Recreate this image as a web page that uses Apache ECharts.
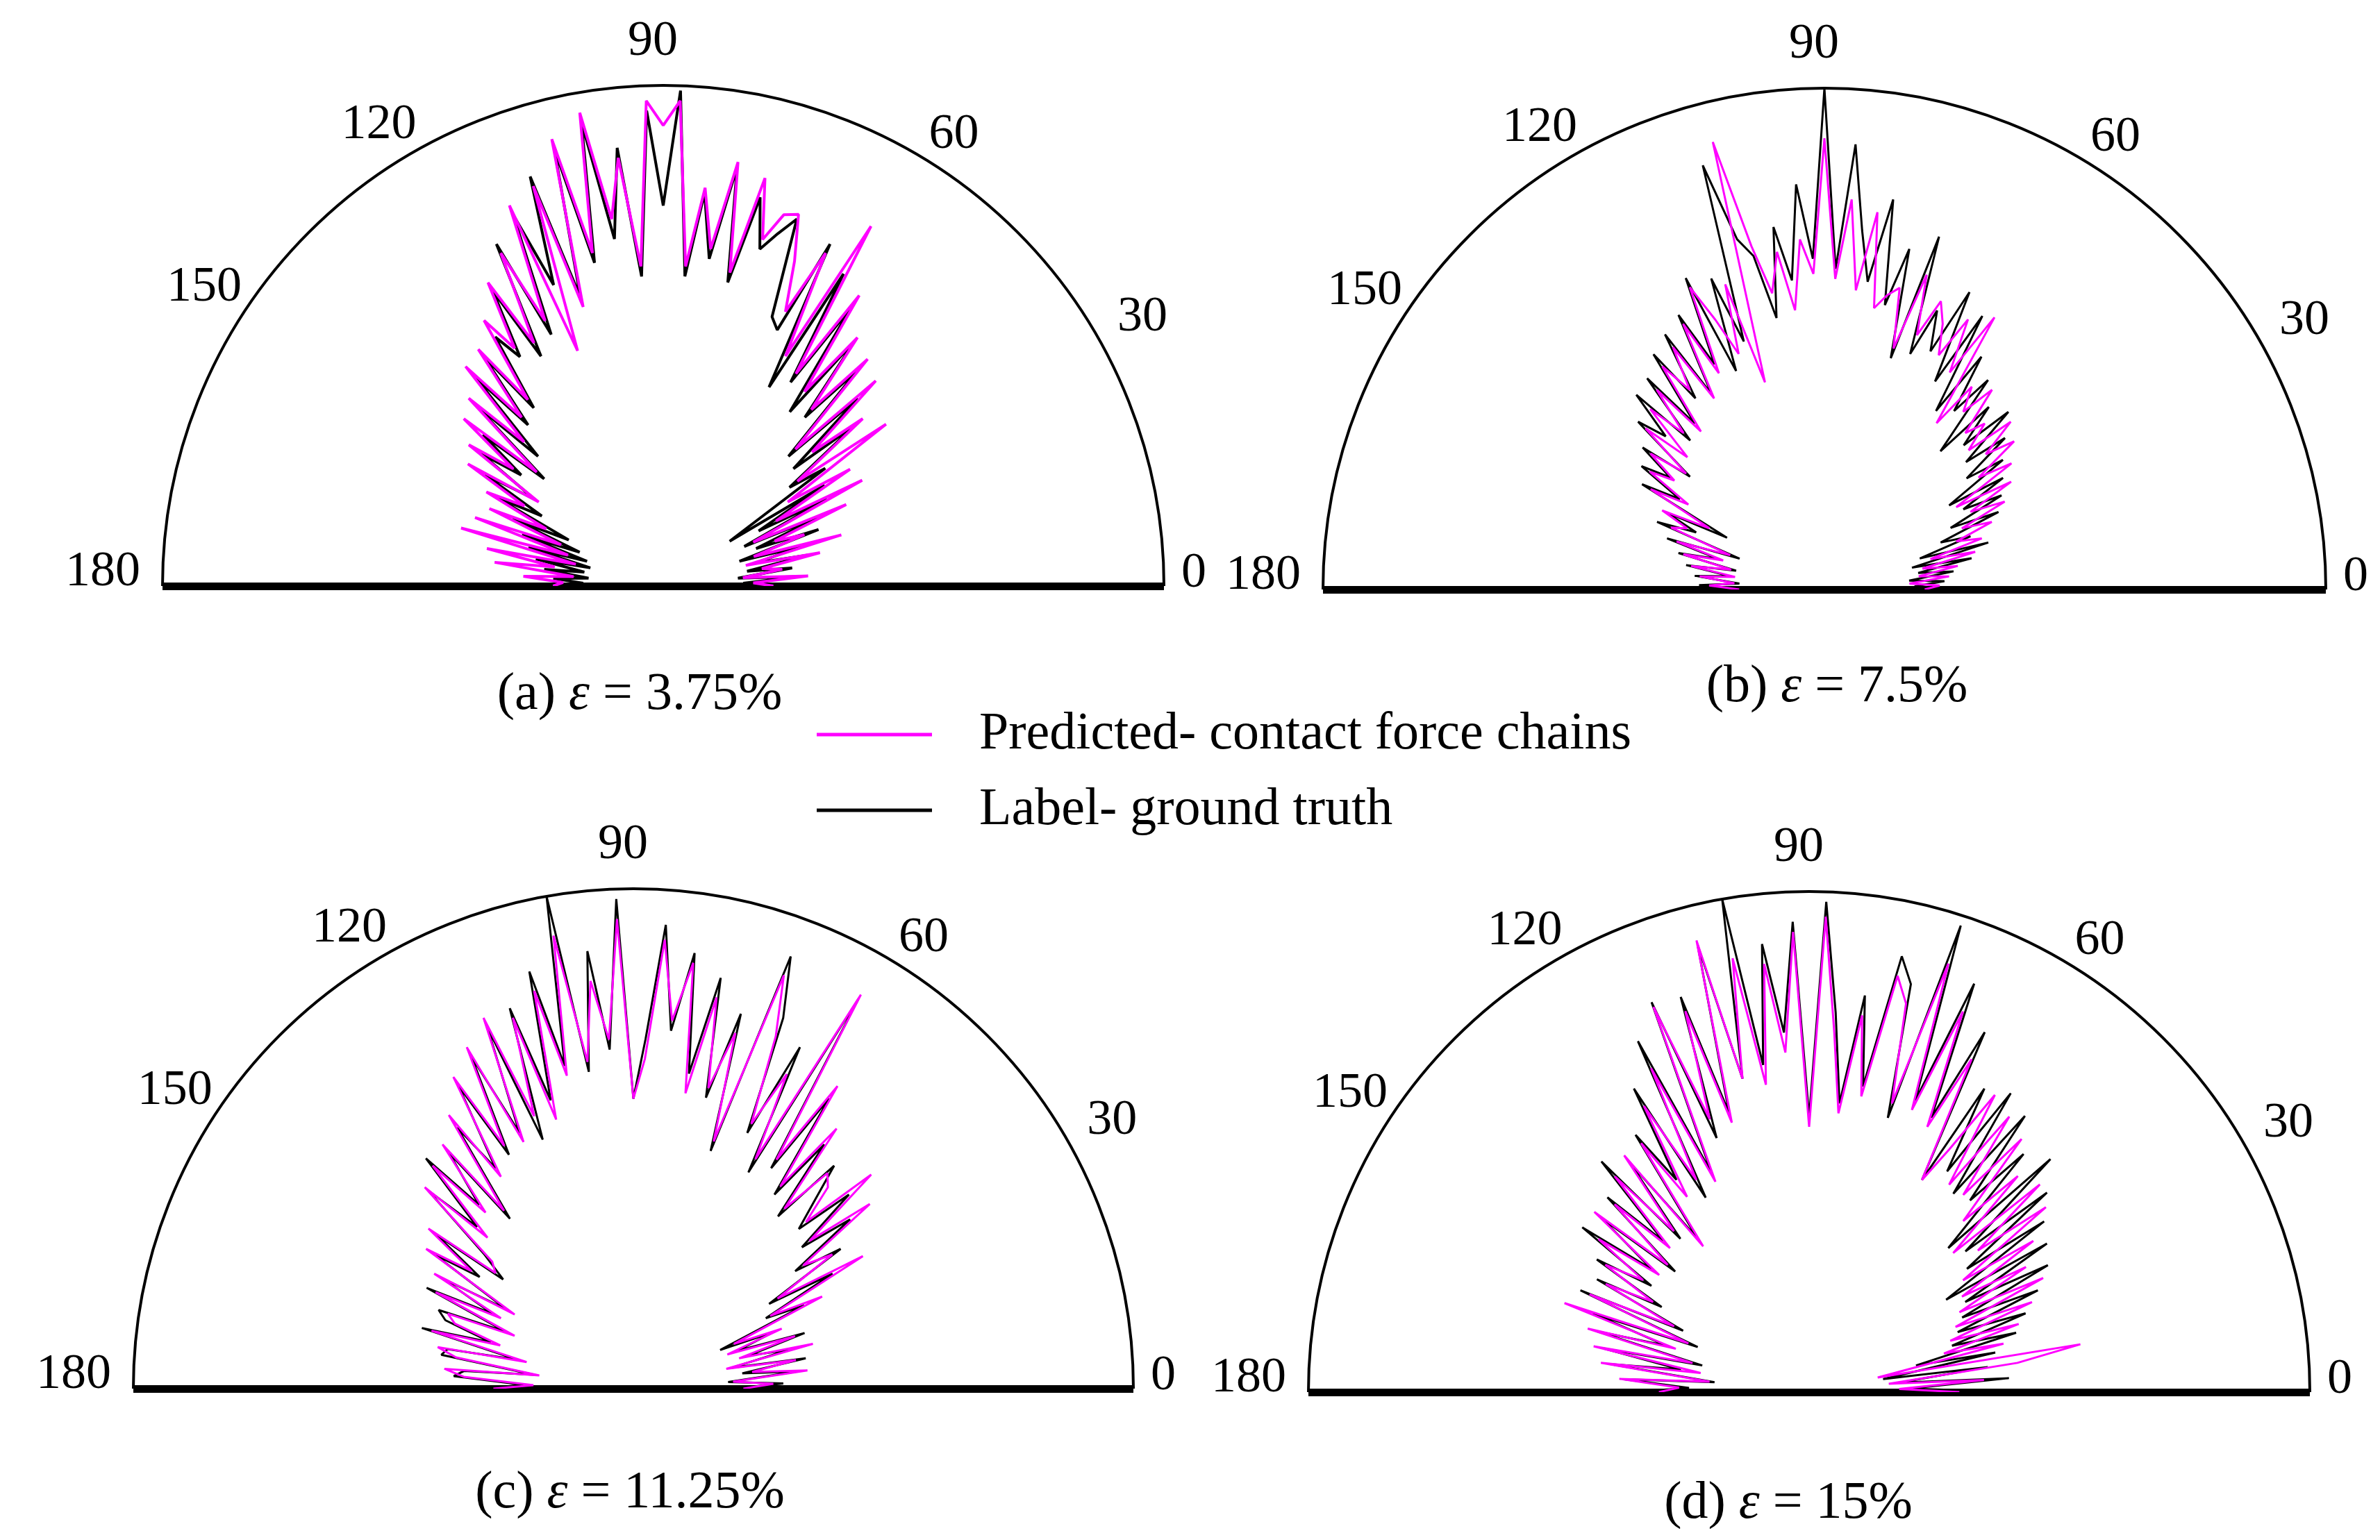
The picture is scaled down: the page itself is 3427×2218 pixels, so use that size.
<!DOCTYPE html>
<html>
<head>
<meta charset="utf-8">
<title>Contact force chain orientation</title>
<script src="https://cdn.jsdelivr.net/npm/echarts@6/dist/echarts.min.js"></script>
<style>
html, body { margin: 0; padding: 0; background: #fff; }
#main { width: 3427px; height: 2218px; }
</style>
</head>
<body>
<div id="main"></div>
<script>
// contact direction (degrees), one value every 2 degrees
var angles = [0, 2, 4, 6, 8, 10, 12, 14, 16, 18, 20, 22, 24, 26, 28, 30, 32, 34, 36, 38,
	40, 42, 44, 46, 48, 50, 52, 54, 56, 58, 60, 62, 64, 66, 68, 70, 72, 74, 76, 78,
	80, 82, 84, 86, 88, 90, 92, 94, 96, 98, 100, 102, 104, 106, 108, 110, 112, 114, 116, 118,
	120, 122, 124, 126, 128, 130, 132, 134, 136, 138, 140, 142, 144, 146, 148, 150, 152, 154, 156, 158,
	160, 162, 164, 166, 168, 170, 172, 174, 176, 178, 180];

// (a) strain 3.75%
var labelA = [20, 16, 27, 15, 26, 17, 30, 19, 29, 16, 33, 20, 35, 18, 37, 22, 38, 16, 40, 32,
	50, 35, 54, 36, 58, 44, 62, 43, 67, 48, 72, 45, 76, 56, 58, 78, 74, 70, 80, 62,
	85, 66, 79, 62, 99, 76, 95, 62, 88, 70, 94, 66, 90, 60, 86, 64, 80, 55, 76, 52,
	68, 54, 60, 44, 58, 42, 56, 36, 52, 32, 47, 36, 45, 31, 42, 28, 38, 21, 33, 18,
	30, 16, 28, 15, 26, 16, 24, 15, 22, 16, 18];
var predA = [22, 18, 29, 16, 24, 20, 32, 17, 37, 19, 30, 24, 40, 20, 45, 26, 44, 30, 55, 34,
	52, 40, 59, 38, 61, 46, 63, 48, 70, 50, 83, 52, 74, 60, 70, 79, 78, 72, 84, 64,
	86, 68, 80, 64, 97, 92, 97, 64, 86, 74, 96, 68, 92, 58, 84, 50, 82, 58, 74, 55,
	70, 56, 64, 46, 60, 44, 59, 40, 54, 34, 52, 38, 48, 30, 46, 32, 40, 26, 38, 22,
	40, 20, 42, 18, 36, 22, 34, 18, 28, 20, 22];

// (b) strain 7.5%
var labelB = [22, 18, 24, 17, 26, 19, 30, 18, 34, 20, 31, 25, 38, 28, 40, 32, 42, 30, 44, 36,
	47, 38, 51, 40, 49, 36, 53, 44, 56, 42, 63, 47, 66, 52, 60, 50, 74, 48, 70, 58,
	79, 62, 72, 89, 64, 100, 66, 81, 62, 73, 55, 68, 72, 88, 52, 66, 47, 68, 50, 62,
	45, 60, 46, 58, 42, 55, 40, 54, 44, 50, 35, 46, 38, 44, 34, 42, 22, 35, 28, 36,
	18, 33, 22, 30, 18, 28, 19, 26, 17, 25, 19];
var predB = [20, 23, 17, 25, 19, 27, 20, 31, 22, 33, 28, 36, 30, 40, 33, 43, 31, 45, 38, 48,
	42, 50, 40, 46, 42, 52, 45, 50, 40, 64, 50, 61, 52, 58, 62, 54, 66, 50, 62, 60,
	57, 76, 60, 78, 62, 90, 63, 70, 56, 68, 60, 70, 92, 43, 64, 50, 58, 66, 48, 60,
	44, 57, 48, 55, 40, 52, 42, 50, 38, 48, 36, 44, 37, 42, 32, 40, 26, 36, 30, 33,
	20, 31, 21, 29, 19, 27, 18, 25, 18, 23, 17];

// (c) strain 11.25%
var labelC = [20, 30, 19, 33, 22, 35, 20, 32, 24, 36, 22, 30, 19, 38, 30, 46, 32, 50, 40, 55,
	44, 58, 46, 52, 60, 45, 62, 48, 70, 52, 90, 49, 76, 56, 80, 92, 50, 78, 60, 84,
	64, 88, 72, 93, 70, 58, 98, 68, 88, 64, 100, 66, 86, 60, 80, 53, 78, 56, 74, 53,
	70, 52, 63, 42, 60, 48, 62, 45, 57, 40, 34, 50, 38, 48, 30, 44, 32, 46, 28, 42,
	40, 30, 44, 24, 38, 39, 20, 34, 36, 22, 30];
var predC = [22, 28, 20, 35, 24, 33, 19, 37, 22, 34, 20, 32, 22, 42, 31, 53, 34, 48, 42, 60,
	46, 64, 48, 56, 58, 47, 66, 50, 73, 54, 91, 52, 70, 58, 76, 88, 52, 74, 62, 80,
	60, 86, 74, 90, 66, 58, 94, 70, 82, 66, 92, 64, 82, 56, 78, 58, 80, 54, 76, 55,
	72, 50, 66, 44, 62, 46, 60, 42, 58, 38, 36, 52, 40, 50, 28, 46, 30, 44, 26, 40,
	38, 28, 42, 22, 40, 36, 19, 38, 34, 20, 28];

// (d) strain 15%
var labelD = [43, 20, 40, 18, 36, 15, 38, 22, 43, 30, 46, 32, 50, 34, 54, 36, 56, 33, 58, 40,
	62, 42, 67, 40, 64, 50, 70, 49, 72, 52, 70, 48, 80, 60, 88, 62, 98, 57, 84, 89,
	62, 80, 58, 76, 98, 55, 94, 72, 90, 66, 100, 64, 92, 58, 83, 54, 84, 48, 78, 44,
	70, 50, 62, 38, 58, 40, 62, 42, 56, 36, 54, 40, 56, 38, 50, 34, 48, 28, 50, 24,
	46, 30, 44, 22, 42, 26, 40, 19, 37, 24, 36];
var predD = [30, 18, 35, 16, 42, 55, 14, 40, 28, 44, 30, 48, 32, 52, 34, 50, 36, 54, 38, 60,
	44, 62, 40, 60, 46, 66, 50, 68, 50, 70, 56, 48, 74, 58, 82, 60, 90, 60, 80, 85,
	60, 76, 56, 72, 95, 53, 92, 68, 86, 62, 88, 64, 93, 56, 80, 58, 83, 46, 72, 48,
	66, 46, 60, 36, 60, 42, 58, 40, 54, 38, 56, 38, 52, 40, 48, 36, 46, 30, 48, 26,
	52, 28, 46, 24, 44, 22, 42, 20, 38, 26, 30];

var angleTicks = [0, 30, 60, 90, 120, 150, 180];
var panelTitles = ['(a) {e|ε} = 3.75%', '(b) {e|ε} = 7.5%', '(c) {e|ε} = 11.25%', '(d) {e|ε} = 15%'];
var seriesNames = ['Predicted- contact force chains', 'Label- ground truth'];

var serif = '"Liberation Serif", "Times New Roman", serif';

var panels = [
	{ center: [955, 844], radius: 721, label: labelA, pred: predA, titleAt: [921, 963], lw: 4 },
	{ center: [2627, 849], radius: 722, label: labelB, pred: predB, titleAt: [2645, 952], lw: 3 },
	{ center: [912, 2000], radius: 720, label: labelC, pred: predC, titleAt: [907, 2113], lw: 3 },
	{ center: [2605, 2005], radius: 721, label: labelD, pred: predD, titleAt: [2575, 2128], lw: 3 }
];

/*标签微调*/
var tickRich = {
	t0: { padding: [0, 0, 36, 45] },
	t30: { padding: [0, 0, 0, 47] },
	t60: { padding: [0, 0, 7, 32] },
	t90: { padding: [0, 30, 47, 0] },
	t120: { padding: [0, 5, 21, 0] },
	t150: { padding: [0, 0, 43, 0] },
	t180: { padding: [0, 52, 40, 0] }
};

function toPolar(vals, angs) {
	var out = [];
	for (var i = 0; i < vals.length; i++) {
		out.push([vals[i], angs[i]]);
	}
	return out;
}

function hiddenRadius(idx, showLine) {
	return {
		polarIndex: idx,
		type: 'value',
		min: 0,
		max: 100,
		axisLine: { show: showLine, lineStyle: { color: '#000', width: 11, cap: 'butt' } },
		axisTick: { show: false },
		axisLabel: { show: false },
		splitLine: { show: false }
	};
}

var polar = [], angleAxis = [], radiusAxis = [], series = [], title = [];
var n = panels.length;

for (var p = 0; p < n; p++) {
	var pn = panels[p];
	polar.push({ center: pn.center, radius: pn.radius });
	angleAxis.push({
		polarIndex: p,
		type: 'value',
		min: angleTicks[0],
		max: angleTicks[angleTicks.length - 1],
		interval: 30,
		startAngle: 0,
		endAngle: 180,
		clockwise: false,
		axisLine: { lineStyle: { color: '#000', width: 4 } },
		axisTick: { show: false },
		splitLine: { show: false },
		axisLabel: {
			margin: -20,
			color: '#000',
			fontSize: 72,
			fontFamily: serif,
			formatter: function(v) {
				return '{t' + v + '|' + v + '}';
			},
			rich: tickRich
		}
	});
	/*右半径 = 底部直径右半*/
	radiusAxis.push(hiddenRadius(p, true));
	series.push({
		name: seriesNames[1],
		type: 'line',
		coordinateSystem: 'polar',
		polarIndex: p,
		data: toPolar(pn.label, angles),
		symbol: 'none',
		lineStyle: { color: '#000', width: pn.lw },
		itemStyle: { color: '#000' },
		z: 3
	});
	series.push({
		name: seriesNames[0],
		type: 'line',
		coordinateSystem: 'polar',
		polarIndex: p,
		data: toPolar(pn.pred, angles),
		symbol: 'none',
		lineStyle: { color: '#ff00ff', width: pn.lw },
		itemStyle: { color: '#ff00ff' },
		z: 4
	});
	title.push({
		text: panelTitles[p],
		left: pn.titleAt[0],
		top: pn.titleAt[1],
		textAlign: 'center',
		padding: 0,
		textStyle: {
			fontSize: 76,
			fontFamily: serif,
			fontWeight: 'normal',
			color: '#000',
			rich: {
				e: { fontSize: 76, fontFamily: serif, fontStyle: 'italic', color: '#000' }
			}
		}
	});
}

/*左半径: 同心的辅助极坐标, 起始角 180*/
for (var q = 0; q < n; q++) {
	polar.push({ center: panels[q].center, radius: panels[q].radius });
	angleAxis.push({
		polarIndex: n + q,
		type: 'value',
		min: 0,
		max: 360,
		startAngle: 180,
		axisLine: { show: false },
		axisTick: { show: false },
		axisLabel: { show: false },
		splitLine: { show: false }
	});
	radiusAxis.push(hiddenRadius(n + q, true));
}

var myChart = echarts.init(document.getElementById('main'));
myChart.setOption({
	backgroundColor: '#fff',
	animation: false,
	title: title,
	legend: {
		data: seriesNames,
		orient: 'vertical',
		left: 1176,
		top: 1020,
		icon: 'rect',
		itemWidth: 166,
		itemHeight: 5,
		itemGap: 33,
		padding: 0,
		textStyle: { fontSize: 76, fontFamily: serif, color: '#000', padding: [0, 0, 0, 63] }
	},
	polar: polar,
	angleAxis: angleAxis,
	radiusAxis: radiusAxis,
	series: series
});
</script>
</body>
</html>
